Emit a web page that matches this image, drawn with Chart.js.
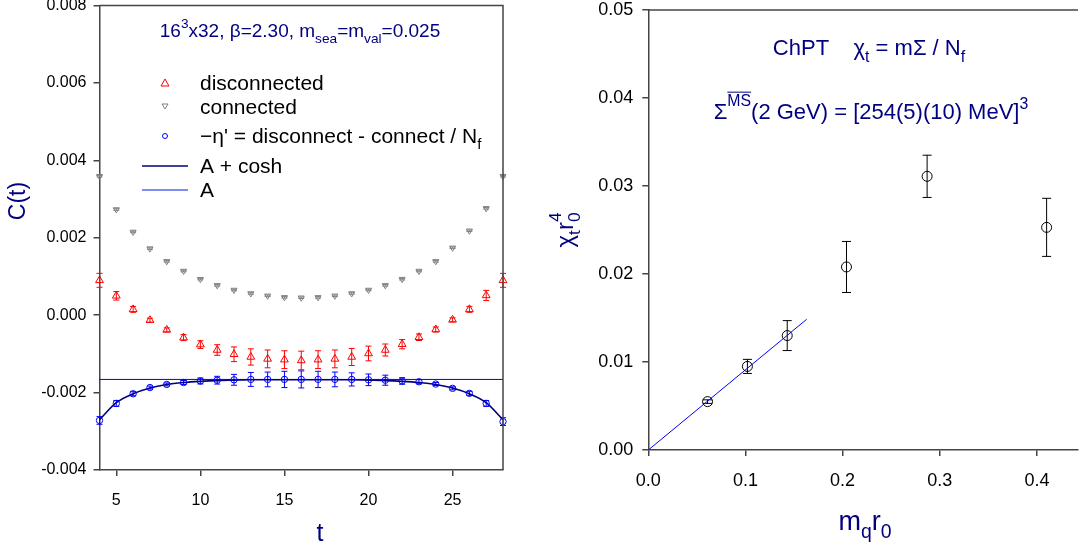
<!DOCTYPE html>
<html>
<head>
<meta charset="utf-8">
<script src="https://cdn.jsdelivr.net/npm/chart.js@4.4.1/dist/chart.umd.min.js"></script>
<style>
  html, body { margin: 0; padding: 0; background: #fff; }
  #wrap { position: relative; width: 1084px; height: 546px; overflow: hidden; }
  #corrChart { position: absolute; left: 0; top: 0; }
  #chiChart { position: absolute; left: 540px; top: 0; }
</style>
</head>
<body>
<div id="wrap">
  <canvas id="corrChart" width="540" height="546"></canvas>
  <canvas id="chiChart" width="544" height="546"></canvas>
</div>
<script>
const FONT = '"Liberation Sans", Arial, sans-serif';
const NAVY = '#000080';
const AXIS = '#444444';

// time slices and correlators
const tValues = [4, 5, 6, 7, 8, 9, 10, 11, 12, 13, 14, 15, 16, 17, 18, 19, 20, 21, 22, 23, 24, 25, 26, 27, 28];
const disconnected = [0.00090, 0.00050, 0.00015, -0.00013, -0.00038, -0.00058, -0.00076, -0.00090, -0.00101, -0.00108, -0.00113, -0.00115, -0.00117,
  -0.00115, -0.00113, -0.00108, -0.00099, -0.00090, -0.00075, -0.00057, -0.00037, -0.00012, 0.00015, 0.00051, 0.00090];
const disconnectedErr = [0.00018, 0.00011, 0.000077, 0.000052, 0.000052, 0.000077, 0.0001, 0.000137, 0.00019, 0.00021, 0.00023, 0.00023, 0.00024,
  0.00023, 0.00023, 0.00022, 0.00019, 0.000155, 0.00012, 0.000085, 0.000065, 0.000052, 0.000077, 0.00013, 0.00018];
const connected = [0.00359, 0.00273, 0.00215, 0.00172, 0.00139, 0.00114, 0.00093, 0.00077, 0.00065, 0.00056, 0.00050, 0.00046, 0.00045,
  0.00046, 0.00050, 0.00056, 0.00065, 0.00077, 0.00093, 0.00114, 0.00139, 0.00174, 0.00218, 0.00276, 0.00359];
const connectedErr = tValues.map(() => 0.00002);
const etaPrime = [-0.00272, -0.00228, -0.00203, -0.00187, -0.00179, -0.00174, -0.00170, -0.00168, -0.00167, -0.00166, -0.00166, -0.00166, -0.00166,
  -0.00166, -0.00166, -0.00166, -0.00167, -0.00168, -0.00170, -0.00172, -0.00178, -0.00189, -0.00202, -0.00228, -0.00275];
const etaPrimeErr = [0.0001, 0.000077, 0.000052, 0.000039, 0.000039, 0.000052, 0.000077, 0.0001, 0.00014, 0.00018, 0.00019, 0.00021, 0.00022,
  0.00021, 0.00019, 0.00017, 0.00015, 0.00013, 0.000085, 0.000052, 0.000039, 0.000039, 0.000052, 0.000077, 0.0001];
const coshFit = [-0.00270, -0.00226, -0.00203, -0.00188, -0.00179, -0.00174, -0.00171, -0.00169, -0.00168, -0.00167, -0.00167, -0.00167, -0.00167,
  -0.00167, -0.00167, -0.00167, -0.00168, -0.00169, -0.00171, -0.00174, -0.00179, -0.00188, -0.00203, -0.00226, -0.00270];
const plateauA = -0.00166;
const tTicks = [5, 10, 15, 20, 25];
const corrTicks = [-0.004, -0.002, 0, 0.002, 0.004, 0.006, 0.008];

// topological susceptibility vs quark mass
const mqR0 = [0.061, 0.102, 0.143, 0.204, 0.287, 0.410];
const chiR04 = [0.0055, 0.0095, 0.0130, 0.0208, 0.0311, 0.0253];
const chiErr = [0.0002, 0.0008, 0.0017, 0.0029, 0.0024, 0.0033];
const chptX = [0, 0.163];
const chptY = [0, 0.01485];
const mqTicks = [0, 0.1, 0.2, 0.3, 0.4];
const chiTicks = [0, 0.01, 0.02, 0.03, 0.04, 0.05];

const pts = (xs, ys) => xs.map((x, i) => ({ x, y: ys[i] }));

// text with sub/superscripts: parts are [text, mode]
function partFont(mode, size) {
  return (mode ? size * 0.72 : size) + 'px ' + FONT;
}
function richWidth(ctx, parts, size) {
  let w = 0;
  parts.forEach(([s, mode]) => {
    ctx.font = partFont(mode, size);
    if (mode === 'stack') w += Math.max(...s.map(v => ctx.measureText(v).width));
    else w += ctx.measureText(s).width;
  });
  return w;
}
function drawRich(ctx, parts, x, y, size, color, align) {
  ctx.save();
  ctx.fillStyle = color;
  ctx.strokeStyle = color;
  ctx.textAlign = 'left';
  ctx.textBaseline = 'alphabetic';
  let cx = align === 'center' ? x - richWidth(ctx, parts, size) / 2 : x;
  parts.forEach(([s, mode]) => {
    ctx.font = partFont(mode, size);
    if (mode === 'stack') {
      ctx.fillText(s[0], cx, y + size * 0.3);
      ctx.fillText(s[1], cx, y - size * 0.5);
      cx += Math.max(...s.map(v => ctx.measureText(v).width));
      return;
    }
    let dy = 0;
    if (mode === 'sub') dy = size * 0.3;
    if (mode === 'sup') dy = -size * 0.45;
    if (mode === 'supbar') dy = -size * 0.6;
    ctx.fillText(s, cx, y + dy);
    const w = ctx.measureText(s).width;
    if (mode === 'supbar') {
      ctx.lineWidth = 1;
      ctx.beginPath();
      ctx.moveTo(cx, y + dy - size * 0.62);
      ctx.lineTo(cx + w, y + dy - size * 0.62);
      ctx.stroke();
    }
    cx += w;
  });
  ctx.restore();
}
function drawRotated(ctx, parts, cx, cy, size, color) {
  ctx.save();
  ctx.translate(cx, cy);
  ctx.rotate(-Math.PI / 2);
  drawRich(ctx, parts, 0, 0, size, color, 'center');
  ctx.restore();
}

const errorBars = {
  id: 'errorBars',
  beforeDatasetsDraw(chart) {
    const { ctx, scales: { x, y } } = chart;
    chart.data.datasets.forEach((ds) => {
      if (!ds.errors) return;
      ctx.save();
      ctx.strokeStyle = ds.errorColor;
      ctx.lineWidth = 1;
      ds.data.forEach((p, k) => {
        const e = ds.errors[k];
        const px = x.getPixelForValue(p.x);
        const top = y.getPixelForValue(p.y + e);
        const bot = y.getPixelForValue(p.y - e);
        const cap = ds.capWidth;
        ctx.beginPath();
        ctx.moveTo(px, top); ctx.lineTo(px, bot);
        ctx.moveTo(px - cap, top); ctx.lineTo(px + cap, top);
        ctx.moveTo(px - cap, bot); ctx.lineTo(px + cap, bot);
        ctx.stroke();
      });
      ctx.restore();
    });
  }
};

function axis(min, max, ticks, fmt, size, pad, fixed, isY) {
  return {
    type: 'linear',
    min, max,
    afterBuildTicks: (s) => { s.ticks = ticks.map(v => ({ value: v })); },
    afterFit: (s) => {
      if (isY) s.width = fixed; else s.height = fixed;
      // keep the plot box where the layout padding puts it
      s.paddingTop = 0; s.paddingBottom = 0; s.paddingLeft = 0; s.paddingRight = 0;
    },
    ticks: { callback: fmt, font: { family: FONT, size }, color: '#000', padding: pad, autoSkip: false, maxRotation: 0 },
    grid: { drawOnChartArea: false, drawTicks: true, tickLength: 6, color: AXIS, lineWidth: 1.5 },
    border: { display: true, color: AXIS, width: 1.5 }
  };
}

// top/right frame, legend and labels of the correlator panel
const corrDecor = {
  id: 'corrDecor',
  afterDraw(chart) {
    const { ctx, chartArea: a } = chart;
    ctx.save();
    ctx.strokeStyle = AXIS;
    ctx.lineWidth = 1.5;
    ctx.beginPath();
    ctx.moveTo(a.left, a.top); ctx.lineTo(a.right, a.top); ctx.lineTo(a.right, a.bottom);
    ctx.stroke();

    drawRich(ctx, [['16', ''], ['3', 'sup'], ['x32, \u03b2=2.30, m', ''], ['sea', 'sub'], ['=m', ''], ['val', 'sub'], ['=0.025', '']],
      300, 37, 19, NAVY, 'center');

    // legend markers
    ctx.lineWidth = 1;
    ctx.strokeStyle = '#ff0000';
    ctx.beginPath();
    ctx.moveTo(165, 79); ctx.lineTo(169, 86); ctx.lineTo(161, 86); ctx.closePath(); ctx.stroke();
    ctx.strokeStyle = '#808080';
    ctx.beginPath();
    ctx.moveTo(162, 104); ctx.lineTo(168, 104); ctx.lineTo(165, 109); ctx.closePath(); ctx.stroke();
    ctx.strokeStyle = '#0000ff';
    ctx.beginPath();
    ctx.arc(165, 136, 2.5, 0, Math.PI * 2); ctx.stroke();
    ctx.lineWidth = 1.5;
    ctx.strokeStyle = NAVY;
    ctx.beginPath(); ctx.moveTo(142, 166); ctx.lineTo(188, 166); ctx.stroke();
    ctx.strokeStyle = '#5566ee';
    ctx.beginPath(); ctx.moveTo(142, 190); ctx.lineTo(188, 190); ctx.stroke();

    drawRich(ctx, [['disconnected', '']], 200, 90, 21, '#000');
    drawRich(ctx, [['connected', '']], 200, 114, 21, '#000');
    drawRich(ctx, [['\u2212\u03b7\' = disconnect - connect / N', ''], ['f', 'sub']], 200, 143, 21, '#000');
    drawRich(ctx, [['A + cosh', '']], 200, 173, 21, '#000');
    drawRich(ctx, [['A', '']], 200, 197, 21, '#000');

    drawRotated(ctx, [['C(t)', '']], 25, 201, 23, NAVY);
    drawRich(ctx, [['t', '']], 320, 541, 25, NAVY, 'center');
    ctx.restore();
  }
};

// top frame and labels of the susceptibility panel
const chiDecor = {
  id: 'chiDecor',
  afterDraw(chart) {
    const { ctx, chartArea: a } = chart;
    ctx.save();
    ctx.strokeStyle = AXIS;
    ctx.lineWidth = 1.5;
    ctx.beginPath();
    ctx.moveTo(a.left, a.top); ctx.lineTo(a.right, a.top);
    ctx.stroke();

    drawRich(ctx, [['ChPT    ', ''], ['\u03c7', ''], ['t', 'sub'], [' = m\u03a3 / N', ''], ['f', 'sub']], 329, 55, 22, NAVY, 'center');
    drawRich(ctx, [['\u03a3', ''], ['MS', 'supbar'], ['(2 GeV) = [254(5)(10) MeV]', ''], ['3', 'sup']], 331, 119, 22, NAVY, 'center');

    drawRotated(ctx, [['\u03c7', ''], ['t', 'sub'], ['r', ''], [['0', '4'], 'stack']], 33, 230, 24, NAVY);
    drawRich(ctx, [['m', ''], ['q', 'sub'], ['r', ''], ['0', 'sub']], 325, 530, 27, NAVY, 'center');
    ctx.restore();
  }
};

new Chart(document.getElementById('corrChart'), {
  type: 'scatter',
  data: {
    datasets: [
      {
        label: 'eta prime',
        data: pts(tValues, etaPrime),
        errors: etaPrimeErr, errorColor: '#0000ff', capWidth: 3,
        pointStyle: 'circle', pointRadius: 3.2, borderColor: '#0000ff', backgroundColor: 'rgba(0,0,0,0)', borderWidth: 1,
        clip: false
      },
      {
        label: 'disconnected',
        data: pts(tValues, disconnected),
        errors: disconnectedErr, errorColor: '#ff0000', capWidth: 3,
        pointStyle: 'triangle', pointRadius: 4.5, borderColor: '#ff0000', backgroundColor: 'rgba(0,0,0,0)', borderWidth: 1,
        clip: false
      },
      {
        label: 'connected',
        data: pts(tValues, connected),
        errors: connectedErr, errorColor: '#808080', capWidth: 3,
        pointStyle: 'triangle', rotation: 180, pointRadius: 3.5, borderColor: '#808080', backgroundColor: 'rgba(0,0,0,0)', borderWidth: 1,
        clip: false
      },
      {
        label: 'A + cosh',
        type: 'line',
        data: pts(tValues, coshFit),
        borderColor: NAVY, borderWidth: 1.6, pointRadius: 0, cubicInterpolationMode: 'monotone', fill: false
      },
      {
        label: 'A',
        type: 'line',
        data: pts([tValues[0], tValues[tValues.length - 1]], [plateauA, plateauA]),
        borderColor: '#0000dd', borderWidth: 1, pointRadius: 0, fill: false
      }
    ]
  },
  options: {
    responsive: false,
    animation: false,
    layout: { padding: { left: 0, top: 5, right: 37, bottom: 0 } },
    plugins: { legend: { display: false }, tooltip: { enabled: false } },
    scales: {
      x: axis(4, 28, tTicks, v => String(v), 16, 15, 76, false),
      y: axis(-0.004, 0.008, corrTicks, v => v.toFixed(3), 16, 7, 99.5, true)
    }
  },
  plugins: [errorBars, corrDecor]
});

new Chart(document.getElementById('chiChart'), {
  type: 'scatter',
  data: {
    datasets: [
      {
        label: 'chi_t r0^4',
        data: pts(mqR0, chiR04),
        errors: chiErr, errorColor: '#000', capWidth: 4.5,
        pointStyle: 'circle', pointRadius: 5, borderColor: '#000', backgroundColor: 'rgba(0,0,0,0)', borderWidth: 1,
        clip: false
      },
      {
        label: 'ChPT',
        type: 'line',
        data: pts(chptX, chptY),
        borderColor: '#0000ff', borderWidth: 1, pointRadius: 0, fill: false
      }
    ]
  },
  options: {
    responsive: false,
    animation: false,
    layout: { padding: { left: 0, top: 10, right: 0, bottom: 0 } },
    plugins: { legend: { display: false }, tooltip: { enabled: false } },
    scales: {
      x: axis(0, 0.4423, mqTicks, v => v.toFixed(1), 18, 14, 96, false),
      y: axis(0, 0.05, chiTicks, v => v.toFixed(2), 18, 9, 108.3, true)
    }
  },
  plugins: [errorBars, chiDecor]
});
</script>
</body>
</html>
